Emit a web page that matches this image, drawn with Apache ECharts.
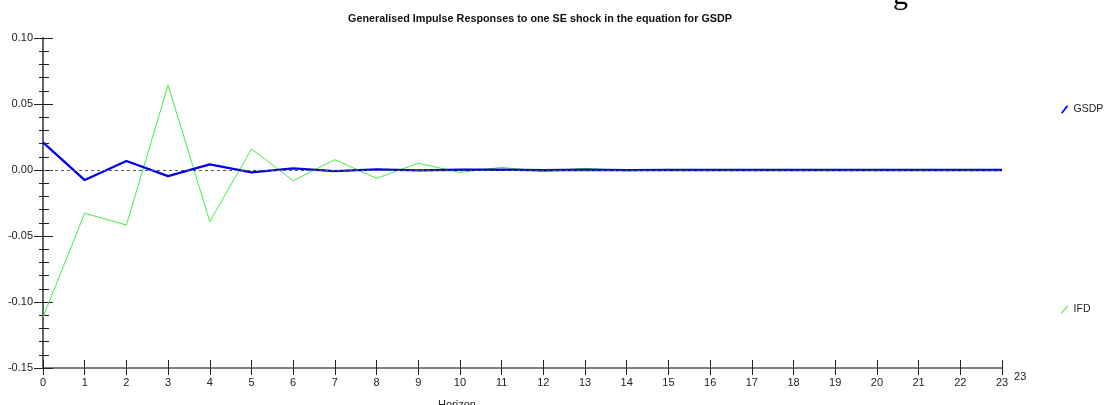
<!DOCTYPE html>
<html>
<head>
<meta charset="utf-8">
<script src="https://cdn.jsdelivr.net/npm/echarts@6/dist/echarts.min.js"></script>
<style>
html,body{margin:0;padding:0;background:#fff;}
#chart{width:1108px;height:405px;}
</style>
</head>
<body>
<div id="chart"></div>
<script>
const horizon = [0,1,2,3,4,5,6,7,8,9,10,11,12,13,14,15,16,17,18,19,20,21,22,23];
const gsdp = [0.0210,-0.0076,0.0068,-0.0046,0.0043,-0.0018,0.0013,-0.0008,0.0005,-0.0003,0.0002,0.0003,-0.0002,0.0002,-0.0001,0.0001,0.0000,0.0000,0.0000,0.0000,0.0000,0.0000,0.0000,0.0000];
const ifd = [-0.1115,-0.0328,-0.0417,0.0644,-0.0391,0.0159,-0.0081,0.0078,-0.0063,0.0051,-0.0018,0.0020,-0.0010,0.0013,-0.0008,0.0004,-0.0003,0.0002,-0.0001,0.0001,0.0000,0.0000,0.0000,0.0000];
const yTicks = [-0.15,-0.10,-0.05,0.00,0.05,0.10];
const titleText = 'Generalised Impulse Responses to one SE shock in the equation for GSDP';
const xAxisName = 'Horizon';
const xEndLabel = '23';

const chart = echarts.init(document.getElementById('chart'));
const font = 'Liberation Sans, Arial, sans-serif';
const yMin = yTicks[0], yMax = yTicks[yTicks.length-1];
const xMax = horizon[horizon.length-1];
const option = {
  animation: false,
  backgroundColor: '#fff',
  title: {
    text: titleText, left: 535, top: 9, textAlign: 'center',
    textStyle: {fontFamily: font, fontSize: 10.8, fontWeight: 'bold', color: '#111'}
  },
  legend: [
    {data: [{name: 'GSDP', icon: 'path://M0,9 L7,0 L9,1 L2,10 Z'}], left: 1056, top: 99, itemWidth: 8, itemHeight: 8, itemGap: 6,
     textStyle: {fontFamily: font, fontSize: 10.5, color: '#222'}},
    {data: [{name: 'IFD', icon: 'path://M0,9 L8,0 L9,1 L1,10 Z'}], left: 1056, top: 299, itemWidth: 8, itemHeight: 8, itemGap: 6,
     textStyle: {fontFamily: font, fontSize: 10.5, color: '#222'}}
  ],
  grid: {left: 43, right: 106, top: 38, bottom: 37, outerBoundsMode: 'none', containLabel: false},
  xAxis: [
    {type: 'value', min: 0, max: xMax, interval: 1,
     name: xEndLabel, nameLocation: 'end', nameGap: 10,
     nameTextStyle: {fontFamily: font, fontSize: 11, color: '#222', verticalAlign: 'top', padding: [3,0,0,0]},
     axisLine: {onZero: false, lineStyle: {color: '#555', width: 1.5}},
     axisTick: {inside: false, length: 7, lineStyle: {color: '#222', width: 1}},
     axisLabel: {fontFamily: font, fontSize: 11, color: '#222', margin: 9},
     splitLine: {show: false}},
    {type: 'value', min: 0, max: xMax, interval: 1, position: 'bottom', offset: 0,
     axisLine: {show: false, onZero: false},
     axisTick: {show: true, inside: true, length: 8, lineStyle: {color: '#222', width: 1}},
     axisLabel: {show: false}, splitLine: {show: false}}
  ],
  yAxis: [
    {type: 'value', min: yMin, max: yMax, interval: 0.05,
     axisLine: {show: true, onZero: false, lineStyle: {color: '#666', width: 2}},
     axisTick: {show: true, length: 9, lineStyle: {color: '#222', width: 1}},
     minorTick: {show: true, splitNumber: 5, length: 4, lineStyle: {color: '#222', width: 1}},
     axisLabel: {fontFamily: font, fontSize: 11, color: '#222', margin: 10,
       formatter: v => v.toFixed(2)},
     splitLine: {show: false}},
    {type: 'value', min: yMin, max: yMax, interval: 0.05, position: 'left', offset: 0,
     axisLine: {show: false, onZero: false},
     axisTick: {show: true, inside: true, length: 10, lineStyle: {color: '#222', width: 1}},
     minorTick: {show: true, splitNumber: 5, length: 6, lineStyle: {color: '#222', width: 1}},
     axisLabel: {show: false}, splitLine: {show: false}}
  ],
  series: [
    {name: 'IFD', type: 'line', showSymbol: false, symbol: 'none',
     data: horizon.map((h,i) => [h, ifd[i]]),
     lineStyle: {color: '#44ee44', width: 1}, itemStyle: {color: '#44ee44'}, z: 2},
    {name: 'GSDP', type: 'line', showSymbol: false, symbol: 'none',
     data: horizon.map((h,i) => [h, gsdp[i]]),
     lineStyle: {color: '#0000ee', width: 2.3}, itemStyle: {color: '#0000ee'}, z: 3,
     markLine: {silent: true, symbol: 'none', label: {show: false},
       lineStyle: {color: '#555', type: [3,3], width: 1},
       data: [{yAxis: 0}]}}
  ],
  graphic: [
    {type: 'text', left: 893, top: -19,
     style: {text: 'g', font: '30px "Liberation Serif", serif', fill: '#000'}},
    {type: 'text', left: 438, top: 399,
     style: {text: xAxisName, font: '11px "Liberation Sans", Arial, sans-serif', fill: '#222'}}
  ]
};
chart.setOption(option);
</script>
</body>
</html>
